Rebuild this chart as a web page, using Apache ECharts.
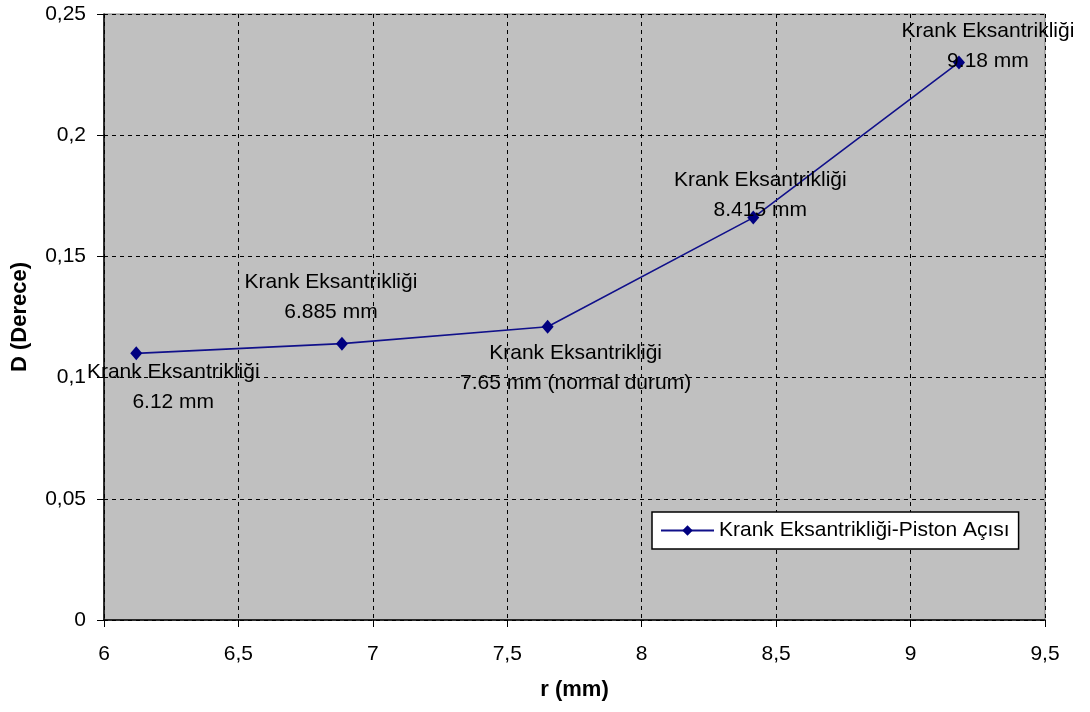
<!DOCTYPE html>
<html>
<head>
<meta charset="utf-8">
<script src="https://cdn.jsdelivr.net/npm/echarts@6/dist/echarts.min.js"></script>
<style>
  html, body { margin: 0; padding: 0; background: #ffffff; }
  #chart { width: 1090px; height: 712px; }
</style>
</head>
<body>
<div id="chart"></div>
<script>
// Crank eccentricity r (mm) vs. piston angle deviation D (degrees)
const rValues = [6.12, 6.885, 7.65, 8.415, 9.18];
const dValues = [0.11, 0.114, 0.121, 0.166, 0.23];
const pointLabels = [
  'Krank Eksantrikliği\n6.12 mm',
  'Krank Eksantrikliği\n6.885 mm',
  'Krank Eksantrikliği\n7.65 mm (normal durum)',
  'Krank Eksantrikliği\n8.415 mm',
  'Krank Eksantrikliği\n9.18 mm'
];
const labelOffsets = [[37, 34], [-11, -46], [28, 42], [7, -22], [29, -16]];
const seriesName = 'Krank Eksantrikliği-Piston Açısı';

const FONT = '"Liberation Sans", Arial, sans-serif';
const fmt = v => String(Math.round(v * 1000) / 1000).replace('.', ',');

const data = rValues.map((r, i) => ({
  value: [r, dValues[i]],
  label: {
    show: true,
    formatter: pointLabels[i],
    position: 'inside',
    offset: labelOffsets[i],
    align: 'center',
    verticalAlign: 'middle',
    color: '#000',
    fontFamily: FONT,
    fontSize: 21,
    lineHeight: 30
  }
}));

const chart = echarts.init(document.getElementById('chart'), null, { renderer: 'canvas' });
chart.setOption({
  animation: false,
  backgroundColor: '#ffffff',
  textStyle: { fontFamily: FONT },
  grid: {
    left: 104, top: 14, right: 45, bottom: 92,
    show: true,
    backgroundColor: '#C0C0C0',
    borderColor: '#808080',
    borderWidth: 1
  },
  legend: {
    show: true,
    left: 652, top: 512,
    backgroundColor: '#ffffff',
    borderColor: '#000000',
    borderWidth: 1.5,
    padding: [8, 9, 8, 8],
    itemWidth: 53,
    itemHeight: 13,
    itemGap: 4,
    textStyle: { color: '#000', fontSize: 21, fontFamily: FONT },
    data: [seriesName]
  },
  xAxis: {
    type: 'value',
    min: 6, max: 9.5, interval: 0.5,
    name: 'r (mm)',
    nameLocation: 'middle',
    nameGap: 59,
    nameTextStyle: { color: '#000', fontSize: 22, fontWeight: 'bold', fontFamily: FONT },
    axisLine: { show: true, onZero: false, lineStyle: { color: '#000', width: 1.5 } },
    axisTick: { show: true, inside: false, length: 7, lineStyle: { color: '#000' } },
    axisLabel: { color: '#000', fontSize: 21, margin: 24, formatter: fmt },
    splitLine: { show: true, lineStyle: { color: '#000', type: [4, 4], width: 1 } }
  },
  yAxis: {
    type: 'value',
    min: 0, max: 0.25, interval: 0.05,
    name: 'D (Derece)',
    nameLocation: 'middle',
    nameRotate: 90,
    nameGap: 73,
    nameTextStyle: { color: '#000', fontSize: 22, fontWeight: 'bold', fontFamily: FONT },
    axisLine: { show: true, onZero: false, lineStyle: { color: '#000', width: 1.5 } },
    axisTick: { show: true, inside: false, length: 7, lineStyle: { color: '#000' } },
    axisLabel: { color: '#000', fontSize: 21, margin: 18, formatter: fmt },
    splitLine: { show: true, lineStyle: { color: '#000', type: [4, 4], width: 1 } }
  },
  series: [{
    name: seriesName,
    type: 'line',
    data: data,
    symbol: 'diamond',
    symbolSize: [12, 14],
    showAllSymbol: true,
    color: '#000080',
    itemStyle: { color: '#000080' },
    lineStyle: { color: '#10108a', width: 1.6 },
    emphasis: { disabled: true },
    z: 3
  }]
});
</script>
</body>
</html>
